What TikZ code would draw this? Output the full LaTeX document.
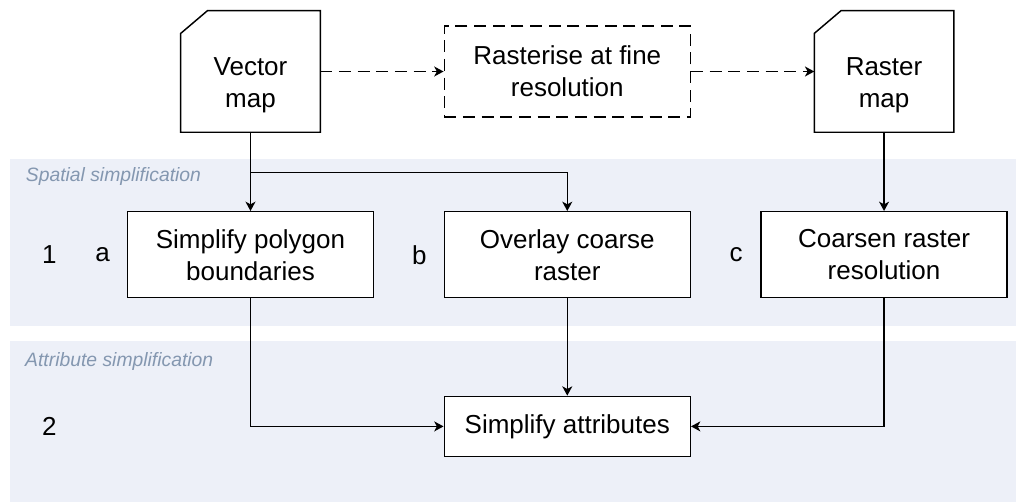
\documentclass[tikz,border=0pt]{standalone}
\usepackage{fontspec}
\setmainfont{Liberation Sans}
\usetikzlibrary{arrows.meta}
\definecolor{bandfill}{HTML}{EDF0F8}
\definecolor{bandtext}{HTML}{8497B0}

\begin{document}
\begin{tikzpicture}[node distance=4.15cm, auto]
    % Define styles
    \tikzstyle{task} = [rectangle, minimum width=184.5pt, minimum height=64.5pt, inner sep=0pt, align=center, draw=black, fill=white, line width=1.1pt, font=\fontsize{19.5}{24}\selectfont]
    \tikzstyle{dashbox} = [task, minimum height=68.25pt, dash pattern=on 9pt off 5pt]
    \tikzstyle{doc} = [rectangle, minimum width=104.25pt, minimum height=90.75pt, inner sep=0pt]
    \tikzstyle{docline} = [draw=black, line width=1.1pt, line join=miter]
    \tikzstyle{doctext} = [align=center, font=\fontsize{19.5}{24}\selectfont]
    \tikzstyle{lbl} = [font=\fontsize{19.5}{24}\selectfont]
    \tikzstyle{band} = [fill=bandfill, draw=none]
    \tikzstyle{bandlbl} = [anchor=west, text=bandtext, font=\fontsize{14.5}{17}\selectfont\itshape]
    \tikzstyle{arrow} = [line width=1.1pt, -{Stealth[length=7pt, width=7.5pt, inset=2pt]}]
    \tikzstyle{dasharrow} = [arrow, dash pattern=on 9pt off 5pt]

    \useasboundingbox (-187.875pt,-322.875pt) rectangle (574.125pt,53.625pt);

    % Bands
    \fill[band] (-180.375pt,-65.625pt) rectangle (574.125pt,-190.875pt);
    \fill[band] (-180.375pt,-202.125pt) rectangle (574.125pt,-322.875pt);
    \node[bandlbl] (spatial) at (-172pt,-79.125pt) {Spatial simplification};
    \node[bandlbl] (attribute) at (-172.5pt,-217.125pt) {Attribute simplification};

    % Nodes
    \node[doc] (vector) at (0,0) {};
    \node[doctext] (vectortext) at ([yshift=-10pt]vector.center) {Vector\\map};
    \node[dashbox, right of=vector, xshift=4.2cm] (rasterise) {Rasterise at fine\\resolution};
    \node[doc, right of=rasterise, xshift=4.2cm] (rastermap) {};
    \node[doctext] (rastertext) at ([yshift=-10pt]rastermap.center) {Raster\\map};

    \node[task, below of=vector, yshift=-0.68cm] (simplify) {Simplify polygon\\boundaries};
    \node[task, below of=rasterise, yshift=-0.68cm] (overlay) {Overlay coarse\\raster};
    \node[task, below of=rastermap, yshift=-0.68cm] (coarsen) {Coarsen raster\\resolution};
    \node[task, minimum height=45pt, below of=overlay, yshift=-0.375cm] (attr) {Simplify attributes};

    \node[lbl, left of=simplify, xshift=0.25cm] (labela) {a};
    \node[lbl, left of=overlay, xshift=0.25cm] (labelb) {b};
    \node[lbl, left of=coarsen, xshift=0.25cm] (labelc) {c};
    \node[lbl, left of=labela, xshift=2.75cm] (one) {1};
    \node[lbl, below of=one, yshift=-0.375cm] (two) {2};

    % Map outlines (cut corner)
    \draw[docline] ([yshift=-17pt]vector.north west) -- ([xshift=20pt]vector.north west) -- (vector.north east) -- (vector.south east) -- (vector.south west) -- cycle;
    \draw[docline] ([yshift=-17pt]rastermap.north west) -- ([xshift=20pt]rastermap.north west) -- (rastermap.north east) -- (rastermap.south east) -- (rastermap.south west) -- cycle;

    % Arrows
    \coordinate (split) at ([yshift=-30pt]vector.south);
    \draw [dasharrow] (vector) -- (rasterise);
    \draw [dasharrow] (rasterise) -- (rastermap);
    \draw [arrow] (vector) -- (simplify);
    \draw [arrow] (split) -| (overlay.north);
    \draw [arrow] (rastermap) -- (coarsen);
    \draw [arrow] (simplify.south) |- (attr.west);
    \draw [arrow] (overlay) -- (attr);
    \draw [arrow] (coarsen.south) |- (attr.east);
\end{tikzpicture}
\end{document}
